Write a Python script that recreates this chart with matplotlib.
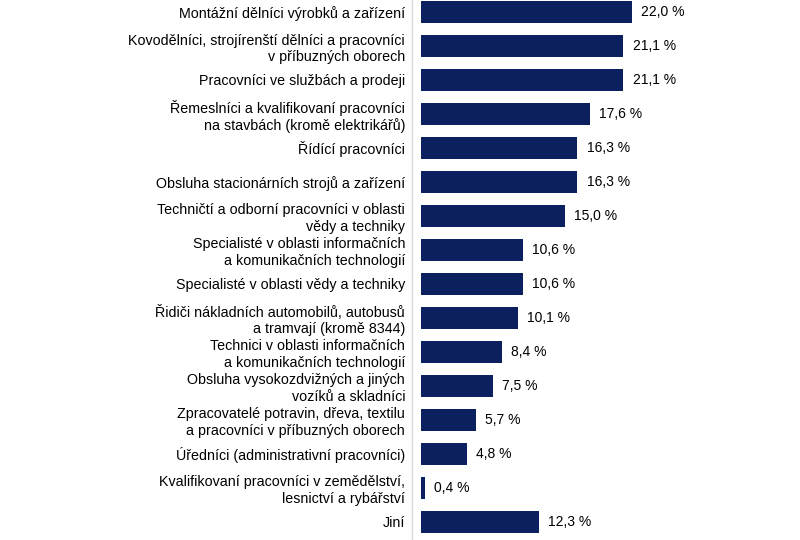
import matplotlib
matplotlib.use("Agg")
import matplotlib.pyplot as plt

plt.rcParams['font.family'] = ['Liberation Sans', 'DejaVu Sans']

categories = [
    "Montážní dělníci výrobků a zařízení",
    "Kovodělníci, strojírenští dělníci a pracovníci\nv příbuzných oborech",
    "Pracovníci ve službách a prodeji",
    "Řemeslníci a kvalifikovaní pracovníci\nna stavbách (kromě elektrikářů)",
    "Řídící pracovníci",
    "Obsluha stacionárních strojů a zařízení",
    "Techničtí a odborní pracovníci v oblasti\nvědy a techniky",
    "Specialisté v oblasti informačních\na komunikačních technologií",
    "Specialisté v oblasti vědy a techniky",
    "Řidiči nákladních automobilů, autobusů\na tramvají (kromě 8344)",
    "Technici v oblasti informačních\na komunikačních technologií",
    "Obsluha vysokozdvižných a jiných\nvozíků a skladníci",
    "Zpracovatelé potravin, dřeva, textilu\na pracovníci v příbuzných oborech",
    "Úředníci (administrativní pracovníci)",
    "Kvalifikovaní pracovníci v zemědělství,\nlesnictví a rybářství",
    "Jiní",
]
values = [22.0, 21.1, 21.1, 17.6, 16.3, 16.3, 15.0, 10.6, 10.6, 10.1, 8.4, 7.5, 5.7, 4.8, 0.4, 12.3]

bar_color = '#0c1f5e'

fig = plt.figure(figsize=(8, 5.4), dpi=100)
ax = fig.add_axes([412 / 800, 0, 388 / 800, 1])

pos = list(range(len(values)))
ax.barh(pos, values, height=0.65, color=bar_color)

# value labels after each bar
for p, v in zip(pos, values):
    ax.text(v + 0.95, p, f"{v:.1f} %".replace('.', ','), va='center', ha='left',
            fontsize=10, color='black')

ax.set_yticks(pos)
ax.set_yticklabels(categories, fontsize=10.25, ha='right')
ax.tick_params(axis='y', length=0, pad=5)
ax.set_xticks([])
ax.set_xlim(-0.94, 39.5)
ax.set_ylim(15.53, -0.353)

for s in ['top', 'right', 'bottom']:
    ax.spines[s].set_visible(False)
ax.spines['left'].set_color('#d9d9d9')
ax.spines['left'].set_linewidth(1)

fig.savefig('out.png', dpi=100)
